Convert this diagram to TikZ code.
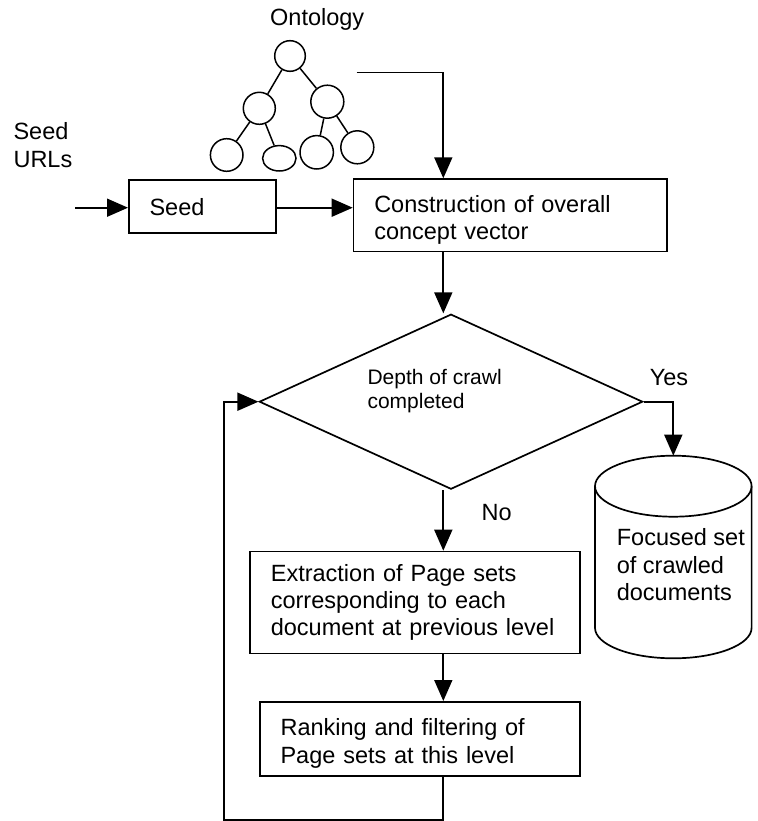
\documentclass[tikz,border=0pt]{standalone}
\usepackage{fontspec}
\setmainfont{Liberation Sans}
\usetikzlibrary{arrows.meta,shapes.geometric}

\begin{document}
\begin{tikzpicture}[x=1pt,y=-1pt,line width=1.7pt,
  font=\fontsize{23.5}{27.3}\selectfont,
  arr/.style={-{Triangle[length=21pt,width=18pt]}},
  box/.style={draw,rectangle,anchor=north west,inner xsep=20.7pt,inner ysep=0pt,align=left},
  leaf/.style={draw,circle,inner sep=0pt,line width=1.5pt},
  txt/.style={anchor=north west,inner sep=0pt,align=left}]
  \useasboundingbox (0,0) rectangle (757,821);

  % ontology tree
  \node[leaf,minimum size=30.6pt] (root) at (290,56) {};
  \node[leaf,minimum size=32pt] (lm) at (259.3,108.3) {};
  \node[leaf,minimum size=33pt] (rm) at (327.3,101.7) {};
  \node[leaf,minimum size=32.6pt] (bl) at (226.7,155) {};
  \node[leaf,ellipse,minimum width=33.4pt,minimum height=25.4pt] (bm) at (279.3,158.3) {};
  \node[leaf,minimum size=33.4pt] (bc) at (316.7,152.3) {};
  \node[leaf,minimum size=33pt] (br) at (357.3,147.3) {};
  \draw[line width=1.5pt] (root) -- (lm) (root) -- (rm) (lm) -- (bl) (lm) -- (bm) (rm) -- (bc) (rm) -- (br);

  \node[txt] (onto) at (269.3,7.6) {Ontology};
  \node[txt] (seedurls) at (12.7,122.1) {Seed\\URLs};

  \node[box,text width=105.6pt,minimum height=53pt] (seed) at (128,179.3) {Seed};
  \node[box,text width=271.9pt,minimum height=72.4pt] (concept) at (352.7,178.3) {\rule{0pt}{26pt}Construction of overall\\concept vector};
  \node[draw,diamond,aspect=2.19,minimum width=383.4pt,minimum height=175pt,inner sep=0pt] (depth) at (451,401.7) {};
  \node[txt,font=\fontsize{21}{24}\selectfont] (depthtxt) at (366.7,368) {Depth of crawl\\completed};
  \node[box,text width=288.6pt,minimum height=102pt] (extract) at (249.3,550.7) {Extraction of Page sets\\corresponding to each\\document at previous level};
  \node[box,text width=278.6pt,minimum height=74pt] (rank) at (259,701) {\rule{0pt}{26pt}Ranking and filtering of\\Page sets at this level};

  % crawled documents store
  \coordinate (storetop) at (673.3,455.7);
  \draw[fill=white] (595,486.2) -- (595,627.8) arc[start angle=180,end angle=0,x radius=78.3,y radius=30.5] -- (751.6,486.2);
  \draw (673.3,486.2) ellipse [x radius=78.3, y radius=30.5];
  \node[txt] (store) at (616,528) {Focused set\\of crawled\\documents};

  \coordinate (in) at (75,207.7);
  \coordinate (ontoout) at (356.7,72.5);
  \coordinate (spine) at (443.3,0);
  \coordinate (loopcorner) at (224,820);

  \draw[arr] (in) -- (in -| seed.west);
  \draw[arr] (in -| seed.east) -- (in -| concept.west);
  \draw[arr] (ontoout) -| (spine |- concept.north);
  \draw[arr] (spine |- concept.south) -- (spine |- depth.north);
  \draw[arr] (depth.east) -| (storetop);
  \draw[arr] (spine |- depth.south) -- (spine |- extract.north);
  \draw[arr] (spine |- extract.south) -- (spine |- rank.north);
  \draw[arr] (spine |- rank.south) |- (loopcorner) |- (depth.west);

  \node[txt] (yes) at (649,368.2) {Yes};
  \node[txt] (no) at (480.7,503.2) {No};
\end{tikzpicture}
\end{document}
